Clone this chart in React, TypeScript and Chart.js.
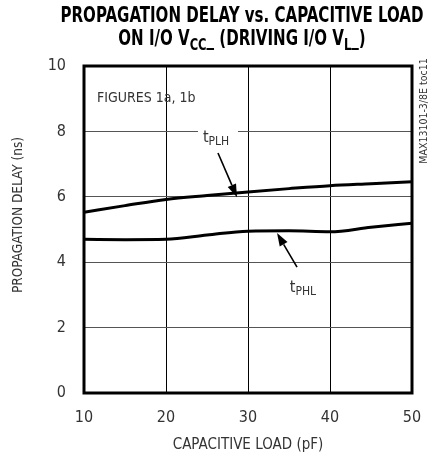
import { useRef, useEffect } from 'react';
import { Chart, registerables } from 'chart.js';

Chart.register(...registerables);

const loads = [10, 15, 20, 25, 30, 35, 40, 45, 50];
const tPLH = [5.53, 5.73, 5.92, 6.04, 6.15, 6.25, 6.34, 6.4, 6.46];
const tPHL = [4.7, 4.69, 4.7, 4.83, 4.95, 4.96, 4.93, 5.07, 5.19];

const FONT = '"DejaVu Sans Condensed", "Noto Sans", sans-serif';

const toPoints = (ys: number[]) => loads.map((x, i) => ({ x, y: ys[i] }));

// text with a lowered subscript part, returns width
function subText(ctx: CanvasRenderingContext2D, base: string, sub: string, x: number, y: number, size: number, weight = '', draw = true) {
  ctx.font = `${weight} ${size}px ${FONT}`;
  const w1 = ctx.measureText(base).width;
  if (draw) ctx.fillText(base, x, y);
  ctx.font = `${weight} ${Math.round(size * 0.75)}px ${FONT}`;
  const w2 = ctx.measureText(sub).width;
  if (draw) ctx.fillText(sub, x + w1, y + size * 0.22);
  return w1 + w2;
}

function arrow(ctx: CanvasRenderingContext2D, x1: number, y1: number, x2: number, y2: number) {
  const a = Math.atan2(y2 - y1, x2 - x1);
  const len = 13;
  const half = 4.5;
  ctx.strokeStyle = '#000';
  ctx.lineWidth = 1.6;
  ctx.beginPath();
  ctx.moveTo(x1, y1);
  ctx.lineTo(x2 - Math.cos(a) * len, y2 - Math.sin(a) * len);
  ctx.stroke();
  ctx.fillStyle = '#000';
  ctx.beginPath();
  ctx.moveTo(x2, y2);
  ctx.lineTo(x2 - Math.cos(a) * len - Math.sin(a) * half, y2 - Math.sin(a) * len + Math.cos(a) * half);
  ctx.lineTo(x2 - Math.cos(a) * len + Math.sin(a) * half, y2 - Math.sin(a) * len - Math.cos(a) * half);
  ctx.closePath();
  ctx.fill();
}

const decorations = {
  id: 'decorations',
  beforeDatasetsDraw(chart: any) {
    const { ctx, scales } = chart;
    const xs = scales.x;
    const ys = scales.y;
    // gap in the 8 ns gridline behind the tPLH label
    ctx.save();
    ctx.fillStyle = '#fff';
    ctx.fillRect(xs.getPixelForValue(23.9), ys.getPixelForValue(8) - 3, 40, 6);
    ctx.restore();
  },
  afterDraw(chart: any) {
    const { ctx, chartArea, scales } = chart;
    const xs = scales.x;
    const ys = scales.y;
    const px = (v: number) => xs.getPixelForValue(v);
    const py = (v: number) => ys.getPixelForValue(v);
    ctx.save();

    // frame
    ctx.strokeStyle = '#000';
    ctx.lineWidth = 3;
    ctx.strokeRect(chartArea.left, chartArea.top, chartArea.right - chartArea.left, chartArea.bottom - chartArea.top);

    // title, squeezed sideways like the datasheet face
    ctx.fillStyle = '#000';
    ctx.textBaseline = 'alphabetic';
    ctx.textAlign = 'left';
    ctx.font = `bold 21px ${FONT}`;
    const t1 = 'PROPAGATION DELAY vs. CAPACITIVE LOAD';
    const w1 = ctx.measureText(t1).width;
    const sx = 363 / w1;
    ctx.save();
    ctx.translate(242, 0);
    ctx.scale(sx, 1);
    ctx.fillText(t1, -w1 / 2, 22);
    const parts: [string, string][] = [['ON I/O V', 'CC'], ['_ (DRIVING I/O V', 'L'], ['_)', '']];
    let total = 0;
    parts.forEach(([b, s]) => { total += subText(ctx, b, s, 0, 0, 21, 'bold', false); });
    let cx = -total / 2;
    parts.forEach(([b, s]) => { cx += subText(ctx, b, s, cx, 45, 21, 'bold'); });
    ctx.restore();

    // y axis title (sits a little above the plot centre in the original)
    ctx.save();
    ctx.translate(18, 215);
    ctx.rotate(-Math.PI / 2);
    ctx.textAlign = 'center';
    ctx.textBaseline = 'middle';
    ctx.font = `13.5px ${FONT}`;
    ctx.fillStyle = '#333';
    ctx.fillText('PROPAGATION DELAY (ns)', 0, 0);
    ctx.restore();

    // note
    ctx.font = `14px ${FONT}`;
    ctx.fillStyle = '#333';
    ctx.textBaseline = 'middle';
    ctx.fillText('FIGURES 1a, 1b', px(11.6), py(9.0));

    // curve labels
    ctx.textBaseline = 'alphabetic';
    subText(ctx, 't', 'PLH', px(24.5), py(7.68), 16);
    subText(ctx, 't', 'PHL', px(35.1), py(3.09), 16);
    arrow(ctx, px(26.34), py(7.34), px(28.66), py(5.99));
    arrow(ctx, px(35.98), py(3.85), px(33.54), py(4.89));

    // side code
    ctx.translate(424, 111);
    ctx.rotate(-Math.PI / 2);
    ctx.textAlign = 'center';
    ctx.textBaseline = 'middle';
    ctx.font = `10.5px ${FONT}`;
    ctx.fillStyle = '#333';
    ctx.fillText('MAX13101-3/8E toc11', 0, 0);
    ctx.restore();
  },
};

export default function App() {
  const canvasRef = useRef<HTMLCanvasElement>(null);
  const chartRef = useRef<Chart | null>(null);

  useEffect(() => {
    document.body.style.margin = '0';
    if (!canvasRef.current) return;
    if (chartRef.current) chartRef.current.destroy();

    const line = (label: string, ys: number[]) => ({
      label,
      data: toPoints(ys),
      borderColor: '#000',
      borderWidth: 3,
      pointRadius: 0,
      cubicInterpolationMode: 'monotone' as const,
      fill: false,
    });

    chartRef.current = new Chart(canvasRef.current, {
      type: 'line',
      data: { datasets: [line('tPLH', tPLH), line('tPHL', tPHL)] },
      options: {
        animation: false,
        responsive: true,
        maintainAspectRatio: false,
        layout: { padding: { top: 66, right: 20, left: 0, bottom: 0 } },
        plugins: { legend: { display: false }, tooltip: { enabled: false }, title: { display: false } },
        scales: {
          x: {
            type: 'linear',
            min: 10,
            max: 50,
            ticks: { stepSize: 10, color: '#333', padding: 15, maxRotation: 0, font: { family: FONT, size: 16 } },
            grid: { color: '#000', lineWidth: 1, drawTicks: false },
            border: { display: false },
            title: { display: true, text: 'CAPACITIVE LOAD (pF)', color: '#333', font: { family: FONT, size: 15 }, padding: { top: 2 } },
            afterFit: (s: any) => { s.height = 65; s.paddingLeft = 0; s.paddingRight = 0; },
          },
          y: {
            min: 0,
            max: 10,
            ticks: { stepSize: 2, color: '#333', padding: 18, font: { family: FONT, size: 16 } },
            grid: { color: '#555', lineWidth: 1, drawTicks: false },
            border: { display: false },
            afterFit: (s: any) => { s.width = 84; s.paddingTop = 0; s.paddingBottom = 0; },
          },
        },
      },
      plugins: [decorations],
    });

    return () => {
      if (chartRef.current) {
        chartRef.current.destroy();
        chartRef.current = null;
      }
    };
  }, []);

  return (
    <div style={{ position: 'relative', width: 432, height: 458 }}>
      <canvas ref={canvasRef}></canvas>
    </div>
  );
}
